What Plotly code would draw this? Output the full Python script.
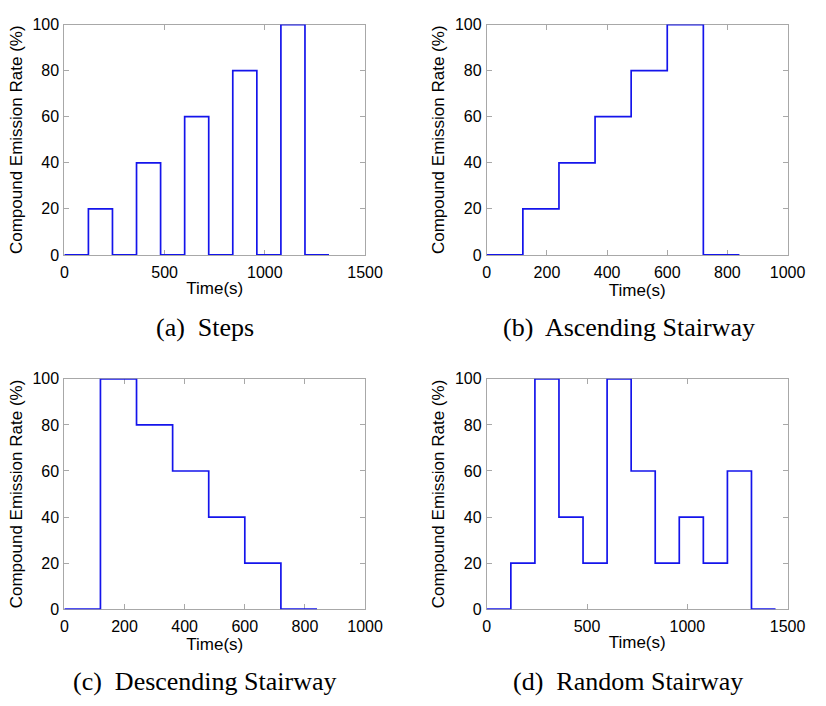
import plotly.graph_objects as go

# ---- data (120 s segments) ----
times_a = [0, 120, 240, 360, 480, 600, 720, 840, 960, 1080, 1200, 1320]
rate_a = [0, 20, 0, 40, 0, 60, 0, 80, 0, 100, 0, 0]

times_b = [0, 120, 240, 360, 480, 600, 720, 840]
rate_b = [0, 20, 40, 60, 80, 100, 0, 0]

times_c = [0, 120, 240, 360, 480, 600, 720, 840]
rate_c = [0, 100, 80, 60, 40, 20, 0, 0]

times_d = [0, 120, 240, 360, 480, 600, 720, 840, 960, 1080, 1200, 1320, 1440]
rate_d = [0, 20, 100, 40, 20, 100, 60, 20, 40, 20, 60, 0, 0]

xmax = [1500, 1000, 1000, 1500]
xdtick = [500, 200, 200, 500]
y_ticks = [0, 20, 40, 60, 80, 100]
captions = ["(a)  Steps", "(b)  Ascending Stairway", "(c)  Descending Stairway", "(d)  Random Stairway"]
x_title = "Time(s)"
y_title = "Compound Emission Rate (%)"

W, H = 826, 706
# plot areas in pixels: (left, right, top, bottom)
boxes = [(62, 371, 17, 253), (496, 805, 17, 253), (62, 371, 380, 616), (496, 805, 380, 616)]
caption_y = [327, 327, 690, 690]
caption_x = [207, 642, 207, 641]

series = [(times_a, rate_a), (times_b, rate_b), (times_c, rate_c), (times_d, rate_d)]

fig = go.Figure()
tickfont = dict(family="Liberation Sans, Arial, sans-serif", size=16, color="black")
titlefont = dict(family="Liberation Sans, Arial, sans-serif", size=17, color="black")

for i, ((xs, ys), (l, r, t, b)) in enumerate(zip(series, boxes)):
    n = "" if i == 0 else str(i + 1)
    fig.add_trace(go.Scatter(
        x=xs, y=ys, mode="lines", line=dict(color="rgb(20,20,235)", width=1.7, shape="hv"),
        xaxis="x" + n, yaxis="y" + n, showlegend=False, hoverinfo="skip",
        cliponaxis=False,
    ))
    common = dict(showline=True, linecolor="#a8a8a8", linewidth=1, mirror="ticks",
                  ticks="inside", ticklen=5, tickcolor="#a8a8a8", tickwidth=1,
                  showgrid=False, zeroline=False, tickfont=tickfont, layer="below traces")
    fig.layout["xaxis" + n] = dict(
        domain=[l / W, r / W], anchor="y" + n, range=[0, xmax[i]], dtick=xdtick[i],
        tick0=0, title=dict(text=x_title, font=titlefont, standoff=1),
        ticklabelstandoff=3, **common)
    fig.layout["yaxis" + n] = dict(
        domain=[1 - b / H, 1 - t / H], anchor="x" + n, range=[0, 100],
        tickvals=y_ticks, title=dict(text=y_title, font=titlefont, standoff=5),
        ticklabelstandoff=1, **common)
    fig.add_annotation(
        text=captions[i], xref="paper", yref="paper",
        x=caption_x[i] / W, y=1 - caption_y[i] / H, xanchor="center", yanchor="middle",
        showarrow=False, font=dict(family="Liberation Serif, Times New Roman, serif", size=26, color="black"))

fig.update_layout(width=W, height=H, margin=dict(l=0, r=0, t=0, b=0),
                  paper_bgcolor="white", plot_bgcolor="white")
fig.write_html("out.html")
